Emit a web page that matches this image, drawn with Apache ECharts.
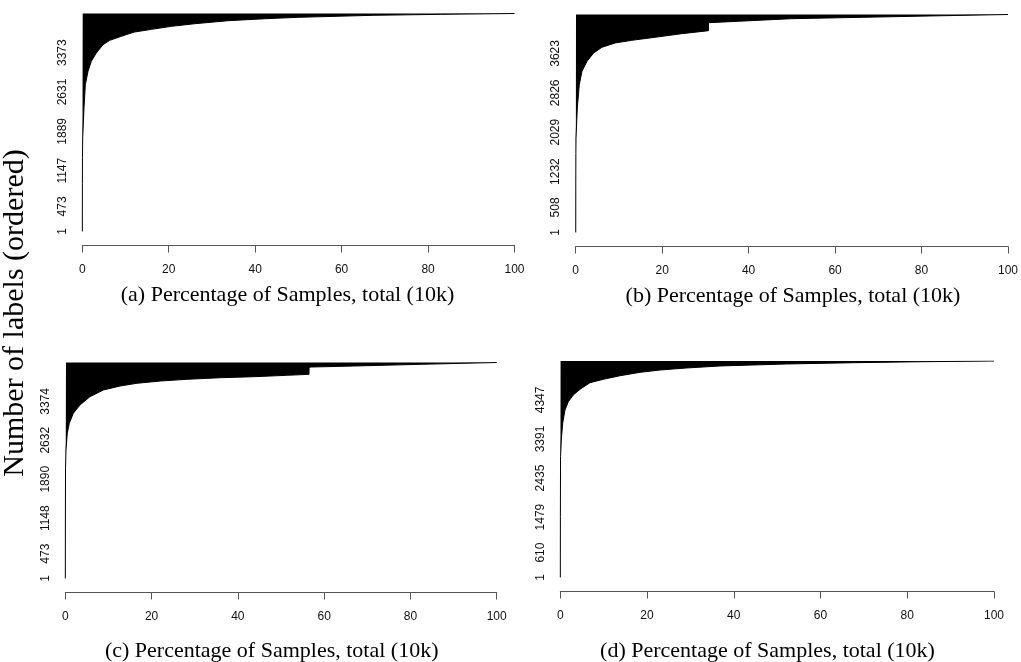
<!DOCTYPE html>
<html>
<head>
<meta charset="utf-8">
<script src="https://cdn.jsdelivr.net/npm/echarts@6/dist/echarts.min.js"></script>
<style>
  html, body { margin: 0; padding: 0; background: #fff; }
  #chart { width: 1021px; height: 662px; }
</style>
</head>
<body>
<div id="chart"></div>
<script>
// percentage of samples (x) against label rank (y)
const pctA = [0.01, 0.02, 0.04, 0.09, 0.39, 0.7, 1.32, 2.08, 3.24, 4.79, 6.34, 9.03, 10.6, 12.1, 16.0, 20.6, 26.0, 33.7, 42.2, 50, 67.3, 82.8, 100]
const rankA = [1, 900, 1400, 1763, 2329, 2769, 3021, 3210, 3367, 3523, 3606, 3681, 3725, 3763, 3813, 3870, 3919, 3976, 4013, 4040, 4078, 4096, 4112]

const pctB = [0.01, 0.02, 0.04, 0.07, 0.37, 0.83, 1.45, 2.6, 4.15, 6.07, 9.13, 12.98, 18.36, 24.5, 30.7, 30.7, 31, 37.6, 49.9, 66.3, 81.7, 100]
const rankB = [1, 1000, 1600, 1912, 2519, 2990, 3261, 3463, 3631, 3747, 3834, 3888, 3949, 4022, 4082, 4244, 4246, 4273, 4325, 4353, 4380, 4410]

const pctC = [0.01, 0.02, 0.05, 0.16, 0.46, 0.93, 1.86, 3.4, 5.7, 8.8, 12.7, 16.6, 22, 28.2, 35.9, 43.6, 51.3, 56.5, 56.5, 57, 66.8, 82.2, 100]
const rankC = [1, 1000, 2100, 2447, 2765, 2955, 3145, 3303, 3461, 3589, 3665, 3717, 3760, 3793, 3823, 3842, 3869, 3888, 4021, 4027, 4046, 4078, 4113]

const pctD = [0.01, 0.02, 0.06, 0.23, 0.55, 1.08, 1.85, 3.0, 4.54, 6.85, 9.9, 13.8, 18.4, 23.0, 29.1, 36.8, 52.2, 67.6, 82.9, 100]
const rankD = [1, 1500, 2957, 3366, 3775, 4100, 4304, 4468, 4607, 4769, 4852, 4940, 5023, 5080, 5129, 5178, 5227, 5258, 5282, 5300]

// number of labels in each panel
const totals = [4112, 4410, 4113, 5300]

// y tick labels
const tickA = [1, 473, 1147, 1889, 2631, 3373]
const tickB = [1, 508, 1232, 2029, 2826, 3623]
const tickC = [1, 473, 1148, 1890, 2632, 3374]
const tickD = [1, 610, 1479, 2435, 3391, 4347]

const captions = [
    '(a) Percentage of Samples, total (10k)',
    '(b) Percentage of Samples, total (10k)',
    '(c) Percentage of Samples, total (10k)',
    '(d) Percentage of Samples, total (10k)'
]
const yTitle = 'Number of labels (ordered)'

const pcts = [pctA, pctB, pctC, pctD]
const ranks = [rankA, rankB, rankC, rankD]
const ticks = [tickA, tickB, tickC, tickD]

const grids = [
    { left: 82.3, top: 13.5, width: 432.2, height: 218 },
    { left: 575.7, top: 14.5, width: 433.6, height: 218 },
    { left: 65.3, top: 362.5, width: 431.4, height: 216 },
    { left: 560.3, top: 361, width: 433.7, height: 216.5 }
]
const captionPos = [[287.5, 295], [793, 296], [271.7, 651.5], [767.5, 651.5]]

const sans = 'Liberation Sans'
const serif = 'Liberation Serif'

const option = {
    animation: false,
    grid: grids,
    xAxis: grids.map((g, i) => ({
        type: 'value',
        gridIndex: i,
        min: 0,
        max: 100,
        interval: 20,
        offset: 14,
        axisLine: { show: true, onZero: false, lineStyle: { color: '#555', width: 1 } },
        axisTick: { show: true, length: 7, lineStyle: { color: '#555', width: 1 } },
        axisLabel: { margin: 18, fontFamily: sans, fontSize: 12, color: '#111' },
        splitLine: { show: false }
    })),
    yAxis: grids.map((g, i) => ({
        type: 'value',
        gridIndex: i,
        min: 0,
        max: totals[i],
        axisLine: { show: false },
        axisTick: { show: false },
        splitLine: { show: false },
        axisLabel: {
            customValues: ticks[i],
            formatter: v => String(v),
            rotate: 90,
            margin: 14,
            fontFamily: sans,
            fontSize: 12,
            color: '#111'
        }
    })),
    series: pcts.map((p, i) => ({
        type: 'line',
        xAxisIndex: i,
        yAxisIndex: i,
        data: p.map((v, k) => [v, ranks[i][k]]),
        showSymbol: false,
        silent: true,
        lineStyle: { color: '#000', width: 1 },
        areaStyle: { color: '#000', opacity: 1, origin: 'end' }
    })),
    graphic: captions.map((c, i) => ({
        type: 'text',
        x: captionPos[i][0],
        y: captionPos[i][1],
        style: {
            text: c,
            font: '22px "' + serif + '"',
            fill: '#000',
            align: 'center',
            verticalAlign: 'middle'
        }
    })).concat([{
        type: 'text',
        x: 15,
        y: 313,
        rotation: Math.PI / 2,
        style: {
            text: yTitle,
            font: '30px "' + serif + '"',
            fill: '#000',
            align: 'center',
            verticalAlign: 'middle'
        }
    }])
}

const chart = echarts.init(document.getElementById('chart'))
chart.setOption(option)
</script>
</body>
</html>
